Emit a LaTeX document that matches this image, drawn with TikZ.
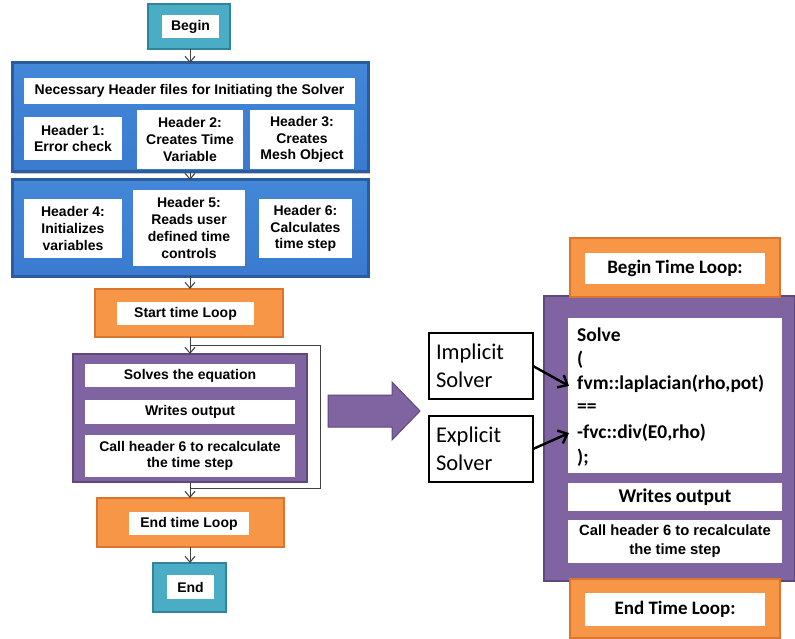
\documentclass[tikz,border=0pt]{standalone}
\usepackage{fontspec}
\setmainfont{Liberation Sans}
\newfontfamily\calfont{Carlito}
\usetikzlibrary{arrows.meta,shadows}
\definecolor{tealfill}{HTML}{4BACC6}
\definecolor{tealdraw}{HTML}{31849B}
\definecolor{bluefill}{HTML}{3A7BCF}
\definecolor{bluetop}{HTML}{4387D8}
\definecolor{bluedraw}{HTML}{2A5C9F}
\definecolor{orfill}{HTML}{F79646}
\definecolor{ordraw}{HTML}{D9752E}
\definecolor{purfill}{HTML}{8064A2}
\definecolor{purdraw}{HTML}{5F497A}
\definecolor{linegray}{HTML}{404040}
\tikzset{
  box/.style={rectangle, inner sep=0pt, outer sep=0pt},
  wbox/.style={box, fill=white, font=\fontsize{14}{16.7}\selectfont\bfseries, align=center, text=black},
  tealbox/.style={box, fill=tealfill, draw=tealdraw, line width=2.5pt},
  bluebox/.style={box, top color=bluetop, bottom color=bluefill, draw=bluedraw, line width=3pt, drop shadow={shadow xshift=1.5pt, shadow yshift=-2pt, fill=black!45}},
  orbox/.style={box, fill=orfill, draw=ordraw, line width=2pt},
  purbox/.style={box, fill=purfill, draw=purdraw, line width=2pt},
  sbox/.style={box, draw=black, line width=1.6pt, fill=white, font=\calfont\fontsize{22.5}{28}\selectfont, align=left, text width=90pt, inner xsep=7pt},
  codeline/.style={anchor=west, inner sep=0pt, font=\calfont\fontsize{19.5}{23}\selectfont\bfseries},
  flow/.style={draw=linegray, line width=0.9pt, -{Straight Barb[length=6pt,width=10pt,line width=1pt]}},
  bigar/.style={draw=black, line width=2.4pt, -{Straight Barb[length=8pt,width=14pt,line width=2.4pt]}},
}
\begin{document}
\begin{tikzpicture}[x=1pt,y=-1pt]
\useasboundingbox (0,0) rectangle (795,639);
\fill[white] (0,0) rectangle (795,639);
% ---------------- left flow ----------------
\node[tealbox, minimum width=82, minimum height=45] (beginO) at (189,26.5) {};
\node[wbox, minimum width=57, minimum height=23] (begin) at (190.5,26.5) {Begin};

\node[bluebox, minimum width=356, minimum height=109] (blue1) at (190,117.5) {};
\node[wbox, minimum width=331, minimum height=26] (title) at (189.5,91) {Necessary Header files for Initiating the Solver};
\node[wbox, minimum width=98, minimum height=43] (h1) at (73,138.5) {Header 1:\\Error check};
\node[wbox, minimum width=106, minimum height=59] (h2) at (190,139.5) {Header 2:\\Creates Time\\Variable};
\node[wbox, minimum width=104, minimum height=59] (h3) at (302,139.5) {Header 3:\\Creates\\Mesh Object};

\node[bluebox, minimum width=356, minimum height=96] (blue2) at (190,228) {};
\node[wbox, minimum width=98, minimum height=59] (h4) at (73,228.5) {Header 4:\\Initializes\\variables};
\node[wbox, minimum width=112, minimum height=76] (h5) at (189,228) {Header 5:\\Reads user\\defined time\\controls};
\node[wbox, minimum width=93, minimum height=59] (h6) at (305.5,228.5) {Header 6:\\Calculates\\time step};

\node[orbox, minimum width=188, minimum height=48] (startO) at (189,313) {};
\node[wbox, minimum width=137, minimum height=23] (start) at (185.5,313.5) {Start time Loop};

\node[purbox, minimum width=234, minimum height=128] (pur) at (190,418) {};
\node[wbox, minimum width=210, minimum height=23] (solves) at (190,375.5) {Solves the equation};
\node[wbox, minimum width=210, minimum height=24] (writes) at (190,412) {Writes output};
\node[wbox, minimum width=210, minimum height=42] (call) at (190,456) {Call header 6 to recalculate\\the time step};

\node[orbox, minimum width=187, minimum height=49] (endloopO) at (190.5,522.5) {};
\node[wbox, minimum width=120, minimum height=23] (endloop) at (189,523.5) {End time Loop};

\node[tealbox, minimum width=73, minimum height=49] (endO) at (189.5,587.5) {};
\node[wbox, minimum width=47, minimum height=24] (end) at (190.5,587) {End};

% connectors
\draw[flow] (beginO.south -| 190,0) -- (blue1.north -| 190,0);
\draw[flow] (blue1.south -| 190,0) -- (blue2.north -| 190,0);
\draw[flow] (blue2.south -| 190,0) -- (startO.north -| 190,0);
\draw[flow] (startO.south -| 190,0) -- (pur.north -| 190,0);
\draw[flow] (pur.south -| 190,0) -- (endloopO.north -| 190,0);
\draw[flow] (endloopO.south -| 190,0) -- (endO.north -| 190,0);
\coordinate (lb) at (190,488);
\coordinate (lt) at (190,345);
\draw[draw=linegray, line width=0.9pt] (lb) -- (320,488) -- (320,345) -- (lt);

% big arrow
\fill[purfill, draw=purdraw, line width=1pt] (328,395) -- (392,395) -- (392,382) -- (420,411) -- (392,440) -- (392,427) -- (328,427) -- cycle;

% ---------------- right ----------------
\node[purbox, minimum width=251, minimum height=285] (rpur) at (669,438.5) {};
\node[orbox, minimum width=210, minimum height=59] (btlO) at (675,267.5) {};
\node[wbox, minimum width=180, minimum height=31, font=\calfont\fontsize{19}{22}\selectfont\bfseries] (btl) at (675,268.5) {Begin Time Loop:};
\node[box, fill=white, minimum width=214, minimum height=155] (code) at (675,395.5) {};
\node[codeline] (c1) at (577,335) {Solve};
\node[codeline] (c2) at (577,360) {(};
\node[codeline] (c3) at (577,384) {fvm::laplacian(rho,pot)};
\node[codeline] (c4) at (577,408) {==};
\node[codeline] (c5) at (577,433) {-fvc::div(E0,rho)};
\node[codeline] (c6) at (577,458) {);};
\node[wbox, minimum width=214, minimum height=28, font=\calfont\fontsize{19.5}{23}\selectfont\bfseries] (rwrites) at (675,497) {Writes output};
\node[wbox, minimum width=214, minimum height=43, font=\fontsize{14.8}{19}\selectfont\bfseries] (rcall) at (675,541.5) {Call header 6 to recalculate\\the time step};
\node[orbox, minimum width=210, minimum height=59] (etlO) at (675,608.5) {};
\node[wbox, minimum width=180, minimum height=33, font=\calfont\fontsize{19}{22}\selectfont\bfseries] (etl) at (675,609.5) {End Time Loop:};

\node[sbox, minimum width=104, minimum height=66] (impl) at (481,366) {Implicit\\Solver};
\node[sbox, minimum width=104, minimum height=66] (expl) at (481,449) {Explicit\\Solver};
\draw[bigar] (impl.east) -- ([xshift=-8pt,yshift=-2pt]c3.west);
\draw[bigar] (expl.east) -- ([xshift=-8pt]c5.west);
\end{tikzpicture}
\end{document}
